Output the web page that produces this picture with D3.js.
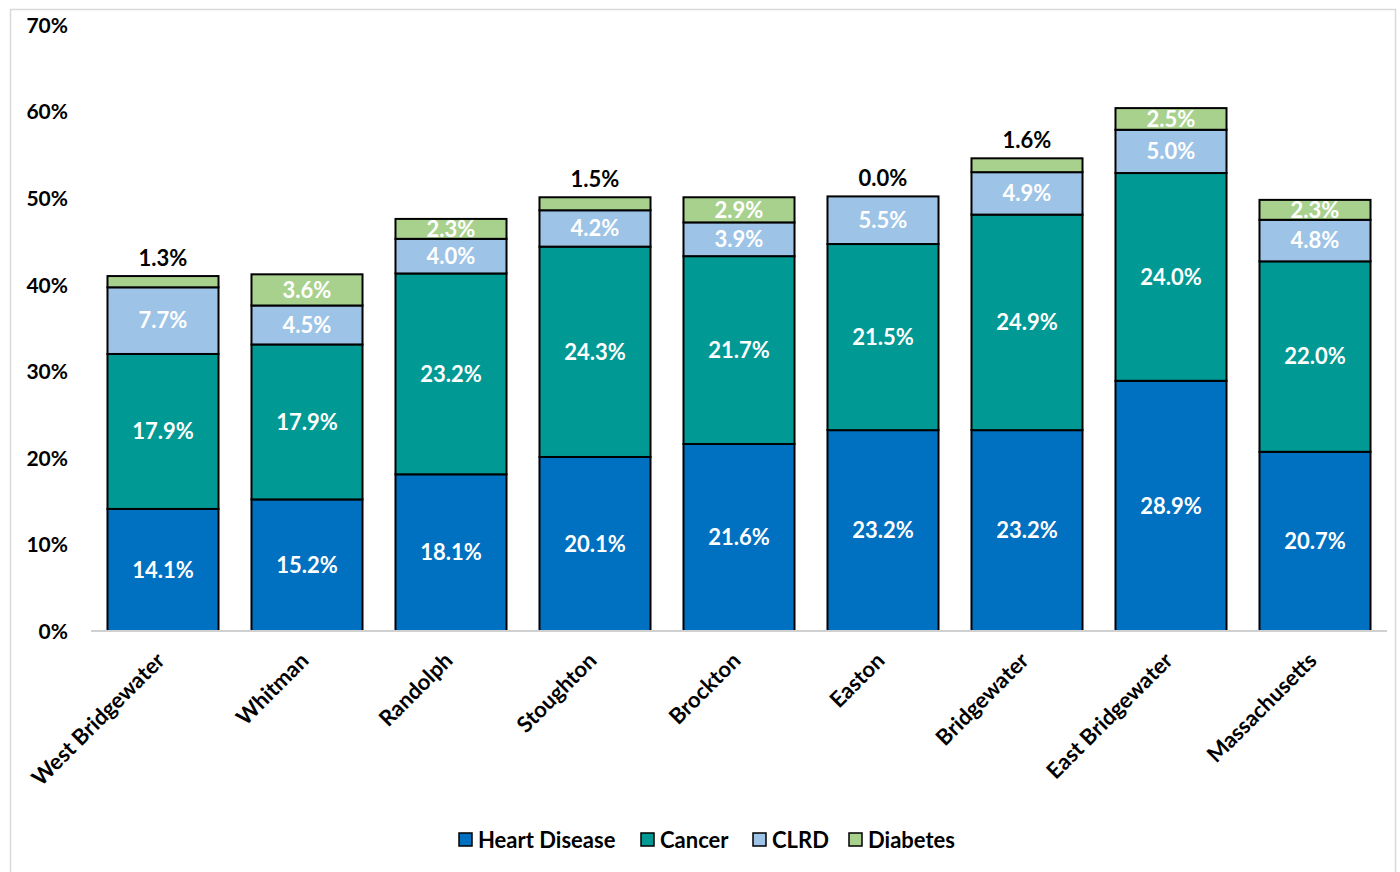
<!DOCTYPE html>
<html>
<head>
<meta charset="utf-8">
<script src="https://cdn.jsdelivr.net/npm/d3@7"></script>
<style>
  html, body { margin: 0; padding: 0; background: #fff; }
  svg text { font-family: Lato, "Open Sans", sans-serif; font-weight: bold; }
</style>
</head>
<body>
<svg id="chart" width="1400" height="872"></svg>
<script>
// Mortality share by leading cause, per community
const categories = ["West Bridgewater", "Whitman", "Randolph", "Stoughton", "Brockton",
                    "Easton", "Bridgewater", "East Bridgewater", "Massachusetts"];
const seriesNames = ["Heart Disease", "Cancer", "CLRD", "Diabetes"];
const heartDisease = [14.1, 15.2, 18.1, 20.1, 21.6, 23.2, 23.2, 28.9, 20.7];
const cancer       = [17.9, 17.9, 23.2, 24.3, 21.7, 21.5, 24.9, 24.0, 22.0];
const clrd         = [7.7, 4.5, 4.0, 4.2, 3.9, 5.5, 4.9, 5.0, 4.8];
const diabetes     = [1.3, 3.6, 2.3, 1.5, 2.9, 0.0, 1.6, 2.5, 2.3];
const yTicks = [0, 10, 20, 30, 40, 50, 60, 70];
const colors = ["#0070c0", "#009994", "#9dc3e6", "#a9d18e"];

const svg = d3.select("#chart");

// outer chart frame
svg.append("rect").attr("x", 10.5).attr("y", 9.5).attr("width", 1385).attr("height", 880)
  .attr("fill", "none").attr("stroke", "#d9d9d9").attr("stroke-width", 1.5);

const plot = { left: 91, right: 1387, top: 25, bottom: 631 };

const x = d3.scaleBand().domain(categories).range([plot.left, plot.right]).paddingInner(0.229).paddingOuter(0.1145);
const y = d3.scaleLinear().domain([0, 70]).range([plot.bottom, plot.top]);

const rows = categories.map((c, i) => ({
  category: c,
  "Heart Disease": heartDisease[i],
  "Cancer": cancer[i],
  "CLRD": clrd[i],
  "Diabetes": diabetes[i]
}));
const stacked = d3.stack().keys(seriesNames)(rows);

// y axis labels (no axis line)
const yAxis = d3.axisLeft(y).tickValues(yTicks).tickFormat(d => d + "%").tickSize(0).tickPadding(0);
const gy = svg.append("g").attr("transform", `translate(68,0)`).call(yAxis);
gy.select(".domain").remove();
gy.selectAll("text").attr("font-size", 21).attr("fill", "#000").attr("dy", "0.35em");

// stacked bars
stacked.forEach((layer, si) => {
  const g = svg.append("g");
  g.selectAll("rect").data(layer).join("rect")
    .attr("x", d => x(d.data.category))
    .attr("width", x.bandwidth())
    .attr("y", d => y(d[1]))
    .attr("height", d => y(d[0]) - y(d[1]))
    .attr("fill", colors[si])
    .attr("stroke", "#000")
    .attr("stroke-width", 2);
});

// category axis
const xAxis = d3.axisBottom(x).tickSize(0).tickPadding(0);
const gx = svg.append("g").attr("transform", `translate(0,${plot.bottom})`).call(xAxis);
gx.select(".domain").attr("stroke", "#d0d0d0").attr("stroke-width", 2)
  .attr("d", `M${plot.left},0H${plot.right}`);
gx.selectAll("text")
  .attr("font-size", 22).attr("fill", "#000")
  .attr("text-anchor", "end")
  .attr("dy", null).attr("y", 0)
  .attr("transform", "translate(3,31) rotate(-45)");

// value labels
stacked.forEach((layer, si) => {
  layer.forEach(d => {
    const v = d[1] - d[0];
    const cx = x(d.data.category) + x.bandwidth() / 2;
    const inside = si < 3 || v >= 2;
    const t = svg.append("text")
      .attr("x", cx)
      .attr("text-anchor", "middle")
      .attr("font-size", 22)
      .text(v.toFixed(1) + "%");
    if (inside) {
      t.attr("y", (y(d[0]) + y(d[1])) / 2).attr("dy", "0.35em").attr("fill", "#fff");
    } else {
      t.attr("y", y(d[1]) - 10).attr("fill", "#000");
    }
  });
});

// legend
const legendItems = [
  { name: "Heart Disease", x: 459 },
  { name: "Cancer", x: 641 },
  { name: "CLRD", x: 753 },
  { name: "Diabetes", x: 849 }
];
const lg = svg.append("g");
legendItems.forEach((it, i) => {
  lg.append("rect").attr("x", it.x).attr("y", 833).attr("width", 13).attr("height", 13)
    .attr("fill", colors[i]).attr("stroke", "#000").attr("stroke-width", 1.5);
  lg.append("text").attr("x", it.x + 19).attr("y", 840).attr("dy", "0.35em")
    .attr("font-size", 22).attr("fill", "#000").text(it.name);
});
</script>
</body>
</html>
